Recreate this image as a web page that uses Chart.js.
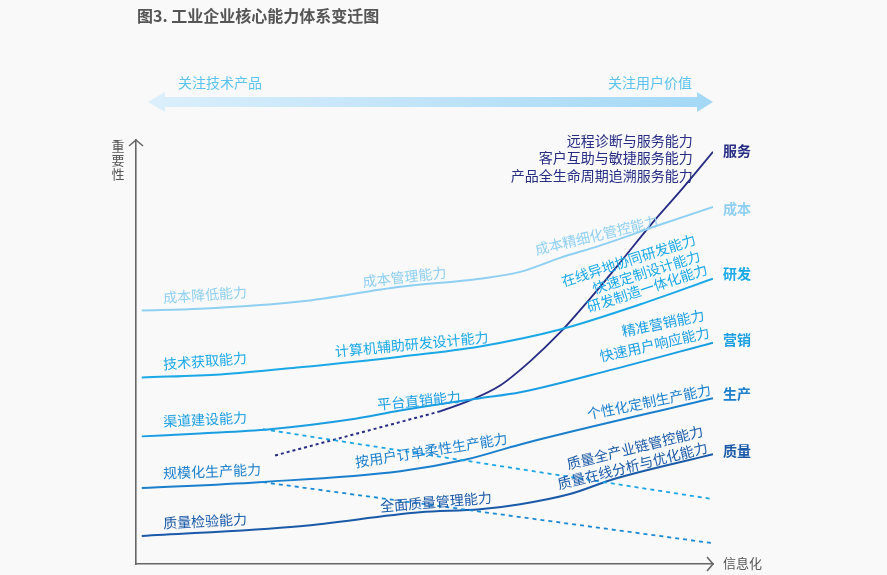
<!DOCTYPE html>
<html><head><meta charset="utf-8">
<script src="https://cdn.jsdelivr.net/npm/chart.js@4.4.1/dist/chart.umd.min.js"></script>
<style>html,body{margin:0;padding:0;background:#f9f9f9;}canvas{display:block}</style>
</head><body>
<canvas id="c" width="887" height="575"></canvas>
<script>
const FONT = '"Noto Sans CJK SC", "Noto Sans", sans-serif';

// 信息化 (x, 0-100) vs 重要性 (y, 0-100)
const costX   = [1, 11.1, 28.4, 45.8, 59.6, 66.6, 73.5, 80.4, 90.8, 100];
const costY   = [59.8, 60.2, 61.9, 65.4, 67.3, 68.9, 72.2, 75.1, 80.0, 84.2];
const rdX     = [1, 14.6, 28.4, 45.8, 59.6, 73.5, 87.3, 100];
const rdY     = [44.0, 44.7, 46.4, 48.9, 51.3, 55.3, 61.2, 67.3];
const mktX    = [1, 11.1, 23.2, 37.1, 45.8, 59.6, 66.6, 82.7, 100];
const mktY    = [30.1, 30.8, 31.8, 34.1, 36.2, 39.1, 40.5, 45.9, 52.2];
const prodX   = [1, 21.3, 45.8, 57.4, 66.6, 100];
const prodY   = [17.9, 19.3, 21.9, 24.7, 28.2, 39.1];
const qualX   = [1, 28.4, 49.2, 59.6, 66.6, 75.2, 82.7, 100];
const qualY   = [6.6, 8.9, 12.2, 12.9, 14.1, 16.5, 20.0, 25.9];
const svcX    = [52.7, 57.9, 63.1, 68.3, 73.5, 78.7, 83.9, 89.1, 94.8, 100];
const svcY    = [36.0, 38.6, 42.1, 47.8, 54.6, 62.6, 71.1, 79.8, 88.7, 97.2];
const svcEarlyX = [24.1, 52.7];
const svcEarlyY = [25.6, 36.0];
const mktFadeX  = [22, 100];
const mktFadeY  = [31.8, 15.3];
const prodFadeX = [22, 100];
const prodFadeY = [19.3, 4.9];

const seriesNames = ['服务', '成本', '研发', '营销', '生产', '质量'];
const seriesEndY  = [97.4, 83.8, 68.5, 52.9, 40.2, 26.8];
const seriesColors = ['#262c84', '#8fd0f2', '#1aa9e6', '#1a9ee2', '#1a7fcc', '#1a5aa8'];

// capability labels: [text, x, y, angle, series index]
const capLabels = [
  ['成本降低能力', 4.7, 62.8, -4, 1],
  ['成本管理能力', 39.3, 66.6, -6.5, 1],
  ['成本精细化管控能力', 69.2, 74.1, -13.5, 1],
  ['技术获取能力', 4.7, 47.1, -4.5, 2],
  ['计算机辅助研发设计能力', 34.5, 50.1, -5.5, 2],
  ['在线异地协同研发能力', 73.8, 66.6, -17.8, 2],
  ['快速定制设计能力', 79.2, 64.9, -17.5, 2],
  ['研发制造一体化能力', 78.2, 60.5, -18, 2],
  ['渠道建设能力', 4.7, 33.6, -3, 3],
  ['平台直销能力', 41.8, 37.6, -5.5, 3],
  ['精准营销能力', 84.2, 54.8, -11.7, 3],
  ['快速用户响应能力', 80.4, 48.9, -12.8, 3],
  ['规模化生产能力', 4.7, 21.4, -2.3, 4],
  ['按用户订单柔性生产能力', 38.0, 24.0, -9, 4],
  ['个性化定制生产能力', 78.2, 35.3, -11.5, 4],
  ['质量检验能力', 4.7, 9.6, -3, 5],
  ['全面质量管理能力', 42.3, 13.6, -4.6, 5],
  ['质量全产业链管控能力', 74.7, 23.5, -14, 5],
  ['质量在线分析与优化能力', 73.1, 18.8, -14, 5]
];
const svcLabels = ['远程诊断与服务能力', '客户互助与敏捷服务能力', '产品全生命周期追溯服务能力'];
const svcLabelY = [99.8, 95.8, 91.5];
const svcLabelX = 96.5;

const pts = (xs, ys) => xs.map((x, i) => ({x, y: ys[i]}));
const line = (xs, ys, color, extra) => Object.assign({
  data: pts(xs, ys), borderColor: color, borderWidth: 2, pointRadius: 0,
  showLine: true, fill: false, cubicInterpolationMode: 'monotone', tension: 0.4
}, extra || {});

const deco = {
  id: 'deco',
  afterDraw(chart) {
    const {ctx} = chart;
    const xs = chart.scales.x, ys = chart.scales.y;
    ctx.save();
    // title
    ctx.fillStyle = '#555';
    ctx.font = 'bold 16px ' + FONT;
    ctx.textBaseline = 'middle';
    ctx.textAlign = 'left';
    ctx.fillText('图3. 工业企业核心能力体系变迁图', 137, 16);
    // top double arrow band
    const g = ctx.createLinearGradient(148, 0, 713, 0);
    g.addColorStop(0, '#dbeffb');
    g.addColorStop(1, '#a3d8f5');
    ctx.fillStyle = g;
    ctx.beginPath();
    ctx.moveTo(148, 102); ctx.lineTo(165, 92); ctx.lineTo(165, 97);
    ctx.lineTo(697, 97); ctx.lineTo(697, 92); ctx.lineTo(713, 102);
    ctx.lineTo(697, 112); ctx.lineTo(697, 107); ctx.lineTo(165, 107);
    ctx.lineTo(165, 112); ctx.closePath(); ctx.fill();
    ctx.font = '14px ' + FONT;
    ctx.fillStyle = '#5cc3ef';
    ctx.fillText('关注技术产品', 178, 83);
    ctx.textAlign = 'right';
    ctx.fillText('关注用户价值', 692, 83);
    // axis arrowheads
    ctx.strokeStyle = '#666'; ctx.lineWidth = 1.6;
    ctx.beginPath();
    ctx.moveTo(xs.left - 7, ys.top + 6); ctx.lineTo(xs.left, ys.top); ctx.lineTo(xs.left + 7, ys.top + 6);
    ctx.moveTo(xs.right - 6, ys.bottom - 7); ctx.lineTo(xs.right, ys.bottom); ctx.lineTo(xs.right - 6, ys.bottom + 7);
    ctx.stroke();
    // axis titles
    ctx.fillStyle = '#555';
    ctx.font = '13px ' + FONT;
    ctx.textAlign = 'center';
    ['重', '要', '性'].forEach((c, i) => ctx.fillText(c, 118, 146 + i * 14));
    ctx.textAlign = 'left';
    ctx.fillText('信息化', 723, 563);
    // capability labels
    ctx.font = '14px ' + FONT;
    capLabels.forEach(([t, x, y, a, s]) => {
      ctx.save();
      ctx.translate(xs.getPixelForValue(x), ys.getPixelForValue(y));
      ctx.rotate(a * Math.PI / 180);
      ctx.fillStyle = seriesColors[s];
      ctx.textAlign = 'left';
      ctx.fillText(t, 0, 0);
      ctx.restore();
    });
    ctx.fillStyle = seriesColors[0];
    ctx.textAlign = 'right';
    svcLabels.forEach((t, i) => ctx.fillText(t, xs.getPixelForValue(svcLabelX), ys.getPixelForValue(svcLabelY[i])));
    // series end labels
    ctx.font = 'bold 14px ' + FONT;
    ctx.textAlign = 'left';
    seriesNames.forEach((n, i) => {
      ctx.fillStyle = seriesColors[i];
      ctx.fillText(n, xs.getPixelForValue(100) + 10, ys.getPixelForValue(seriesEndY[i]));
    });
    ctx.restore();
  }
};

new Chart(document.getElementById('c'), {
  type: 'scatter',
  data: {
    datasets: [
      line(mktFadeX, mktFadeY, '#1aa6e6', {borderDash: [4, 4], borderWidth: 1.8}),
      line(prodFadeX, prodFadeY, '#1a8ad6', {borderDash: [4, 4], borderWidth: 1.8}),
      line(costX, costY, seriesColors[1]),
      line(rdX, rdY, seriesColors[2]),
      line(mktX, mktY, seriesColors[3]),
      line(prodX, prodY, seriesColors[4]),
      line(qualX, qualY, seriesColors[5]),
      line(svcEarlyX, svcEarlyY, seriesColors[0], {borderDash: [3, 3], borderWidth: 2}),
      line(svcX, svcY, seriesColors[0], {borderWidth: 1.8})
    ]
  },
  options: {
    responsive: false,
    animation: false,
    devicePixelRatio: 1,
    layout: {padding: {left: 136, top: 140, right: 174, bottom: 11}},
    plugins: {legend: {display: false}, tooltip: {enabled: false}, title: {display: false}},
    scales: {
      x: {type: 'linear', min: 0, max: 100, ticks: {display: false}, grid: {display: false, drawTicks: false},
          border: {display: true, color: '#666', width: 1.6}},
      y: {type: 'linear', min: 0, max: 100, ticks: {display: false}, grid: {display: false, drawTicks: false},
          border: {display: true, color: '#666', width: 1.6}}
    }
  },
  plugins: [deco]
});
</script>
</body></html>
